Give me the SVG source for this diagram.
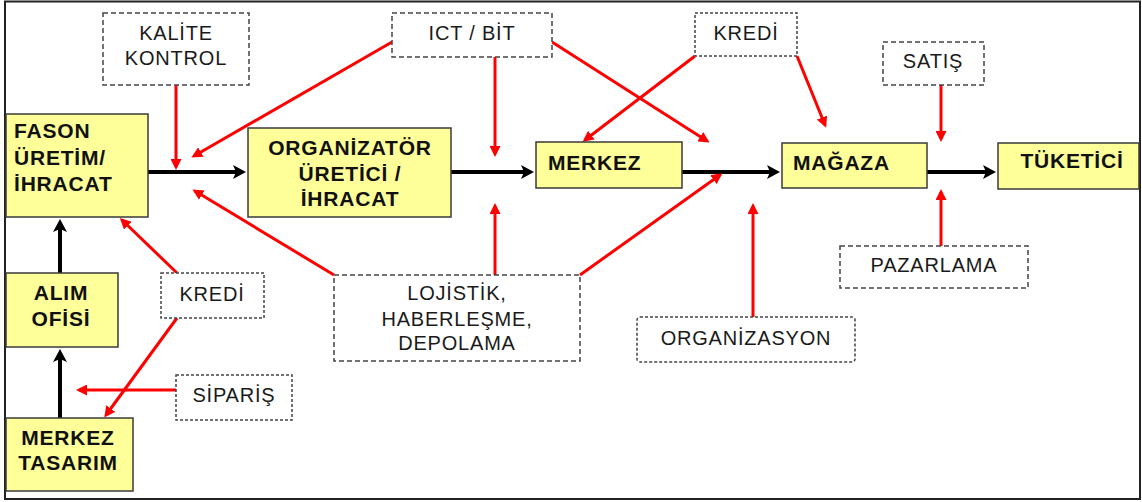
<svg xmlns="http://www.w3.org/2000/svg" width="1142" height="502" viewBox="0 0 1142 502">
<style>
.node rect.y{fill:#FFFF99;stroke:#3a3a3a;stroke-width:1.5}
.node rect.d{fill:#fff;stroke:#444;stroke-width:1.5;stroke-dasharray:5 3}
.node rect.s{fill:#fff;stroke:#444;stroke-width:1.5;stroke-dasharray:3 2}
.b{font-family:"Liberation Sans",Arial,sans-serif;font-weight:bold;font-size:21px;fill:#111;letter-spacing:0.8px}
.n{font-family:"Liberation Sans",Arial,sans-serif;font-size:20px;fill:#1a1a1a;letter-spacing:0.8px}
.c{text-anchor:middle}
.blk{stroke:#000;stroke-width:4;fill:none;marker-end:url(#ab)}
.red{stroke:#FF0000;stroke-width:3;fill:none;marker-end:url(#ar)}
</style>
<defs>
<marker id="ab" markerUnits="userSpaceOnUse" markerWidth="14" markerHeight="14" refX="9" refY="7" orient="auto">
<path d="M0,0 L13,7 L0,14 L3,7 z" fill="#000"/>
</marker>
<marker id="ar" markerUnits="userSpaceOnUse" markerWidth="12" markerHeight="11" refX="8" refY="5.5" orient="auto">
<path d="M0,0 L11,5.5 L0,11 z" fill="#FF0000"/>
</marker>
</defs>
<rect x="0" y="0" width="1142" height="502" fill="#fff"/>
<rect x="5" y="1.5" width="1135" height="497.5" fill="#fff" stroke="#222" stroke-width="2"/>

<g id="connectors">
<line class="blk" x1="148" y1="172" x2="242" y2="172"/>
<line class="blk" x1="451" y1="172" x2="530" y2="172"/>
<line class="blk" x1="682" y1="172" x2="776" y2="172"/>
<line class="blk" x1="927" y1="172" x2="992" y2="172"/>
<line class="blk" x1="60" y1="273" x2="60" y2="223"/>
<line class="blk" x1="60" y1="418" x2="60" y2="353"/>

<line class="red" x1="176" y1="85" x2="176" y2="167"/>
<line class="red" x1="392" y1="42" x2="194" y2="156"/>
<line class="red" x1="495" y1="57" x2="495" y2="154"/>
<line class="red" x1="552" y1="42" x2="707" y2="141"/>
<line class="red" x1="695" y1="56" x2="585" y2="140"/>
<line class="red" x1="797" y1="56" x2="825" y2="125"/>
<line class="red" x1="941" y1="85" x2="941" y2="139"/>
<line class="red" x1="941" y1="246" x2="941" y2="192"/>
<line class="red" x1="753" y1="317" x2="753" y2="206"/>
<line class="red" x1="334" y1="275" x2="195" y2="191"/>
<line class="red" x1="495" y1="275" x2="495" y2="206"/>
<line class="red" x1="580" y1="275" x2="720" y2="175"/>
<line class="red" x1="177" y1="273" x2="122" y2="220"/>
<line class="red" x1="177" y1="318" x2="106" y2="415"/>
<line class="red" x1="176" y1="390" x2="79" y2="390"/>
</g>

<g id="fason" class="node">
<rect class="y" x="6" y="114" width="142" height="103"/>
<text class="b" x="14" y="138">FASON</text>
<text class="b" x="14" y="165">ÜRETİM/</text>
<text class="b" x="14" y="191">İHRACAT</text>
</g>
<g id="organizator" class="node">
<rect class="y" x="248" y="128" width="203" height="89"/>
<text class="b c" x="350" y="155">ORGANİZATÖR</text>
<text class="b c" x="350" y="181">ÜRETİCİ /</text>
<text class="b c" x="350" y="206">İHRACAT</text>
</g>
<g id="merkez" class="node">
<rect class="y" x="536" y="142" width="146" height="46"/>
<text class="b" x="548" y="170">MERKEZ</text>
</g>
<g id="magaza" class="node">
<rect class="y" x="782" y="143" width="145" height="45"/>
<text class="b" x="793" y="170">MAĞAZA</text>
</g>
<g id="tuketici" class="node">
<rect class="y" x="998" y="143" width="141" height="46"/>
<text class="b c" x="1072" y="168">TÜKETİCİ</text>
</g>
<g id="alim" class="node">
<rect class="y" x="6" y="273" width="112" height="74"/>
<text class="b c" x="61" y="300">ALIM</text>
<text class="b c" x="61" y="326">OFİSİ</text>
</g>
<g id="merkez-tasarim" class="node">
<rect class="y" x="6" y="418" width="127" height="73"/>
<text class="b c" x="68" y="445">MERKEZ</text>
<text class="b c" x="68" y="470">TASARIM</text>
</g>

<g id="kalite" class="node">
<rect class="d" x="103" y="13" width="146" height="72"/>
<text class="n c" x="176" y="40">KALİTE</text>
<text class="n c" x="176" y="65">KONTROL</text>
</g>
<g id="ict" class="node">
<rect class="d" x="392" y="13" width="160" height="44"/>
<text class="n c" x="472" y="40">ICT / BİT</text>
</g>
<g id="kredi-top" class="node">
<rect class="s" x="695" y="13" width="102" height="43"/>
<text class="n c" x="746" y="40">KREDİ</text>
</g>
<g id="satis" class="node">
<rect class="d" x="883" y="42" width="101" height="43"/>
<text class="n c" x="933" y="68">SATIŞ</text>
</g>
<g id="pazarlama" class="node">
<rect class="d" x="840" y="246" width="188" height="42"/>
<text class="n c" x="934" y="272">PAZARLAMA</text>
</g>
<g id="organizasyon" class="node">
<rect class="s" x="637" y="317" width="218" height="45" rx="3"/>
<text class="n c" x="746" y="345">ORGANİZASYON</text>
</g>
<g id="lojistik" class="node">
<rect class="d" x="334" y="275" width="246" height="86"/>
<text class="n c" x="457" y="300">LOJİSTİK,</text>
<text class="n c" x="457" y="326">HABERLEŞME,</text>
<text class="n c" x="457" y="350">DEPOLAMA</text>
</g>
<g id="kredi-left" class="node">
<rect class="s" x="161" y="273" width="103" height="45"/>
<text class="n c" x="212" y="301">KREDİ</text>
</g>
<g id="siparis" class="node">
<rect class="s" x="176" y="375" width="116" height="45"/>
<text class="n c" x="234" y="402">SİPARİŞ</text>
</g>
</svg>
